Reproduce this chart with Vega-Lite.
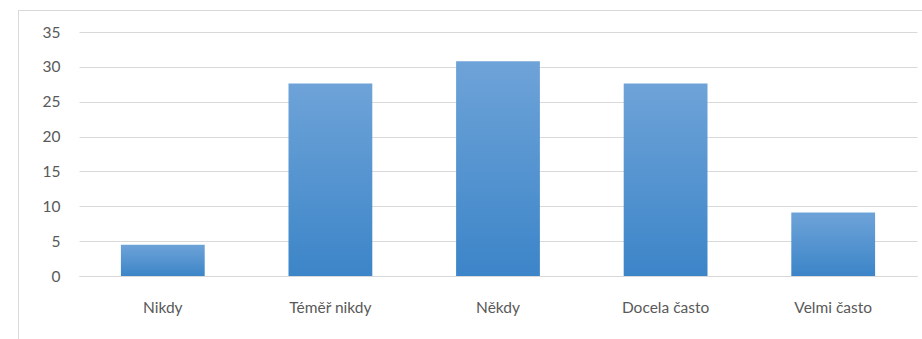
{
  "$schema": "https://vega.github.io/schema/vega-lite/v6.json",
  "width": 904,
  "height": 329,
  "autosize": "none",
  "padding": {"left": 18, "top": 10, "right": 0, "bottom": 0},
  "background": "white",
  "config": {
    "view": {"stroke": "#d9d9d9", "strokeWidth": 1},
    "axis": {"labelFont": "Lato", "labelFontSize": 15.5, "labelColor": "#595959"}
  },
  "data": {
    "values": [
      {"odpoved": "Nikdy", "podil": 4.5},
      {"odpoved": "Téměř nikdy", "podil": 27.6},
      {"odpoved": "Někdy", "podil": 30.8},
      {"odpoved": "Docela často", "podil": 27.6},
      {"odpoved": "Velmi často", "podil": 9.1}
    ]
  },
  "mark": {
    "type": "bar",
    "color": {
      "gradient": "linear",
      "x1": 0, "y1": 0, "x2": 0, "y2": 1,
      "stops": [
        {"offset": 0, "color": "#6ea3d8"},
        {"offset": 1, "color": "#3c85c8"}
      ]
    }
  },
  "encoding": {
    "x": {
      "field": "odpoved",
      "type": "nominal",
      "sort": null,
      "scale": {"range": [61, 899], "paddingInner": 0.5, "paddingOuter": 0.25},
      "axis": {
        "title": null,
        "labelAngle": 0,
        "ticks": false,
        "domain": true,
        "domainColor": "#d9d9d9",
        "offset": -63,
        "labelPadding": 24
      }
    },
    "y": {
      "field": "podil",
      "type": "quantitative",
      "scale": {"domain": [0, 35], "range": [266, 22]},
      "axis": {
        "title": null,
        "values": [0, 5, 10, 15, 20, 25, 30, 35],
        "ticks": false,
        "domain": false,
        "grid": true,
        "gridColor": "#d9d9d9",
        "offset": -61,
        "labelPadding": 19
      }
    }
  }
}
